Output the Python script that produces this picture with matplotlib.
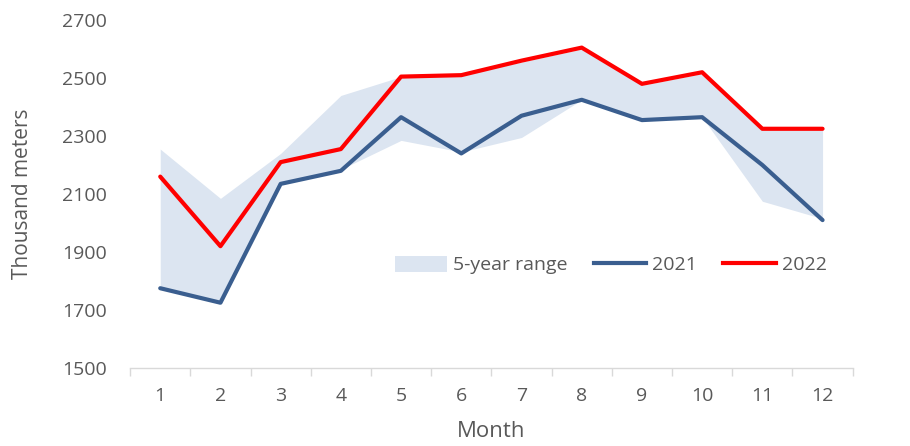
import matplotlib
matplotlib.use("Agg")
import matplotlib.pyplot as plt
from matplotlib.patches import Patch
from matplotlib.lines import Line2D

plt.rcParams["font.family"] = ["Open Sans", "DejaVu Sans"]

months = [1, 2, 3, 4, 5, 6, 7, 8, 9, 10, 11, 12]
y2021 = [1775, 1725, 2135, 2180, 2365, 2240, 2370, 2425, 2355, 2365, 2200, 2010]
y2022 = [2160, 1920, 2210, 2255, 2505, 2510, 2560, 2605, 2480, 2520, 2325, 2325]
range_low = [1775, 1725, 2135, 2185, 2285, 2245, 2295, 2425, 2360, 2365, 2075, 2015]
range_high = [2255, 2085, 2240, 2440, 2505, 2510, 2555, 2600, 2475, 2515, 2320, 2320]

text_col = "#595959"
blue = "#3A5E8F"
red = "#FF0000"
band = "#DCE5F1"

fig = plt.figure(figsize=(9.1, 4.46), dpi=100)
ax = fig.add_axes([0.143, 0.175, 0.794, 0.78])

ax.fill_between(months, range_low, range_high, color=band, lw=0)
ax.plot(months, y2021, color=blue, lw=3, solid_capstyle="round")
ax.plot(months, y2022, color=red, lw=3, solid_capstyle="round")

ax.set_xlim(0.5, 12.5)
ax.set_ylim(1500, 2700)
ax.set_yticks(range(1500, 2701, 200))
ax.set_xticks(months)
ax.set_xticks([m - 0.5 for m in months] + [12.5], minor=True)
ax.tick_params(axis="x", which="major", length=0, pad=14, labelsize=14, labelcolor=text_col)
ax.tick_params(axis="x", which="minor", length=6, color="#D9D9D9", width=1)
ax.tick_params(axis="y", length=0, pad=17, labelsize=14, labelcolor=text_col)

for s in ["top", "right", "left"]:
    ax.spines[s].set_visible(False)
ax.spines["bottom"].set_color("#D9D9D9")
ax.spines["bottom"].set_linewidth(1)

ax.set_xlabel("Month", fontsize=16, color=text_col)
ax.set_ylabel("Thousand meters", fontsize=15, color=text_col)
ax.xaxis.set_label_coords(0.5, -0.152)
ax.yaxis.set_label_coords(-0.134, 0.5)

handles = [
    Patch(facecolor=band, edgecolor="none", label="5-year range"),
    Line2D([0], [0], color=blue, lw=3, label="2021"),
    Line2D([0], [0], color=red, lw=3, label="2022"),
]
leg = ax.legend(handles=handles, ncol=3, frameon=False, fontsize=14,
                loc="center", bbox_to_anchor=(0.665, 0.296),
                handlelength=2.7, handleheight=0.9, columnspacing=1.35, handletextpad=0.3)
for t in leg.get_texts():
    t.set_color(text_col)

fig.savefig("out.png", dpi=100)
